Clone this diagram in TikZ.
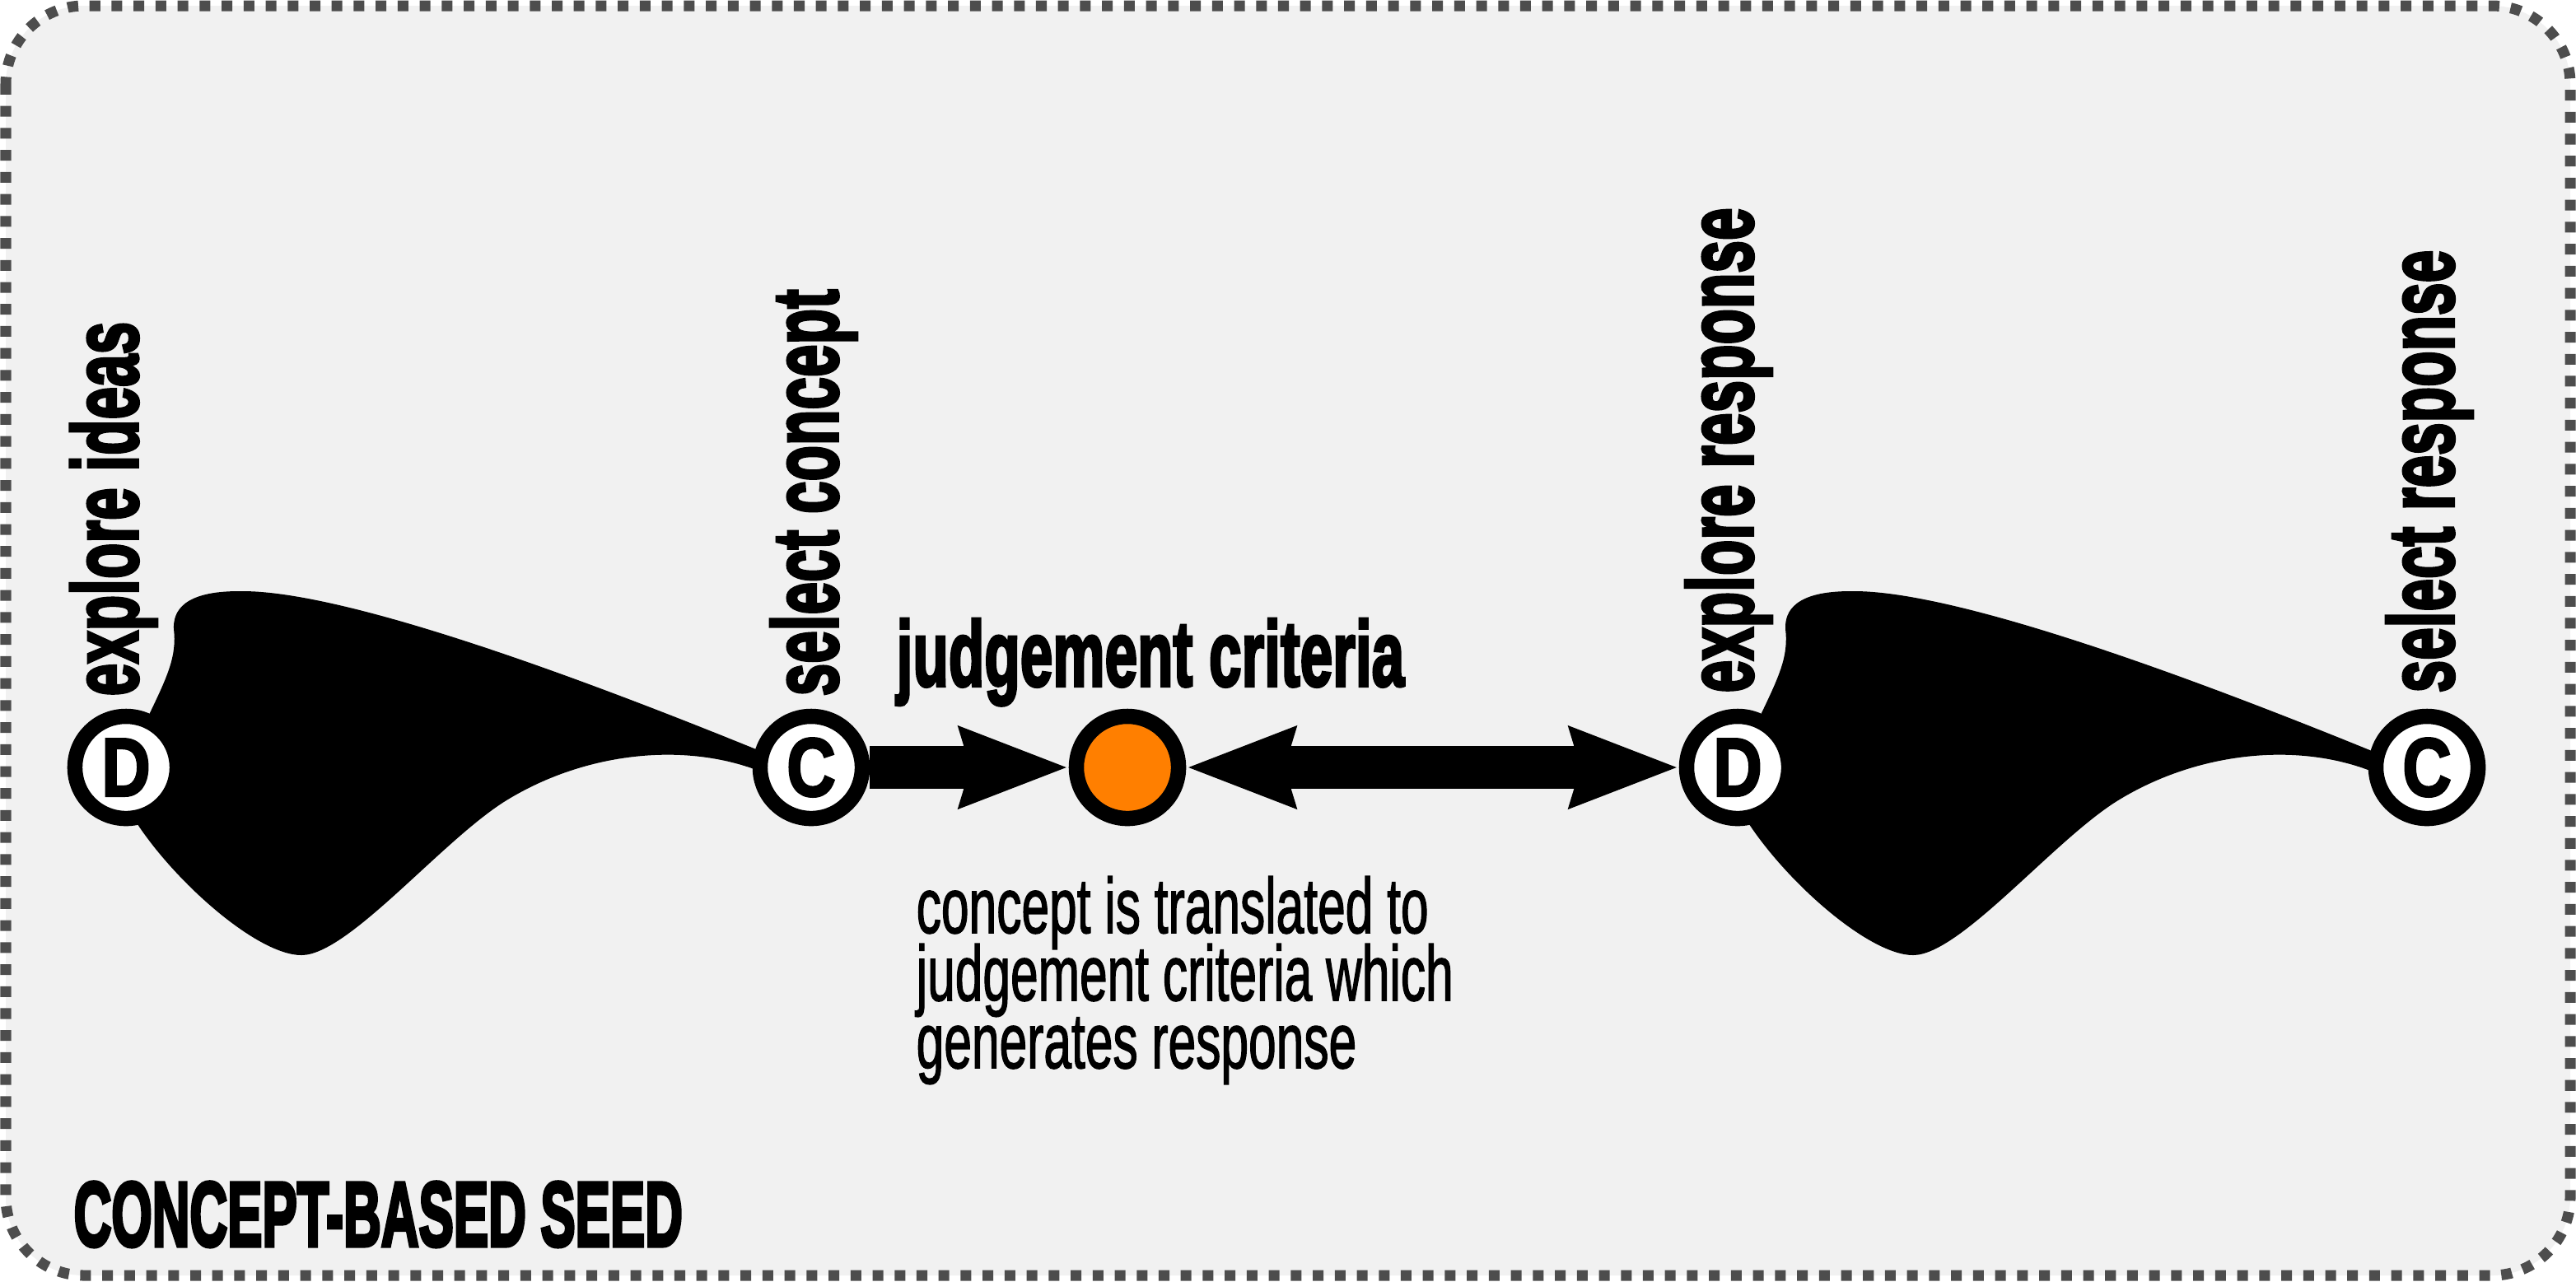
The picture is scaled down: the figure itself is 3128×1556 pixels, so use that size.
\documentclass[tikz,border=0pt]{standalone}
\usepackage{graphicx}
\usepackage{fontspec}
\setmainfont{Liberation Sans}
\newfontfamily\lblfam[FakeBold=3.5]{Liberation Sans}
\newfontfamily\titlefam[FakeBold=4.5]{Liberation Sans}
\newfontfamily\dcfam[FakeBold=3]{Liberation Sans}
\newfontfamily\descfam[FakeBold=1.8]{Liberation Sans}
\usetikzlibrary{arrows.meta}
\def\px{0.28453pt}
\definecolor{bgc}{RGB}{241,241,241}
\definecolor{borderc}{RGB}{77,77,77}
\definecolor{orangec}{RGB}{255,127,0}
\pgfdeclarelayer{blobs}
\pgfsetlayers{blobs,main}
\newcommand\lblfont{\lblfam\bfseries\fontsize{32pt}{36pt}\selectfont}
\newcommand\lbl[1]{\scalebox{0.632}[1]{\lblfont #1}}
\newcommand\dcfont{\dcfam\bfseries\fontsize{28.5pt}{30pt}\selectfont}
\newcommand\dclabel[1]{\scalebox{0.82}[1]{\dcfont #1}}
\newcommand\descfont{\descfam\fontsize{27pt}{23.33pt}\selectfont}
\newcommand\titlefont{\titlefam\bfseries\fontsize{31.5pt}{36pt}\selectfont}
\begin{document}
\begin{tikzpicture}[x=0.01cm,y=-0.01cm,
  ring/.style={circle, draw=black, fill=white, line width=18.5*\px, minimum size=124*\px, inner sep=0pt},
  vlabel/.style={rotate=90, anchor=base west, inner sep=0pt},
  txt/.style={anchor=base west, inner sep=0pt},
  bigline/.style={line width=52*\px},
  tip/.tip={Stealth[length=37pt,width=26.5pt,inset=3.1pt]},
  blobfill/.style={fill=black}]
\useasboundingbox (0,0) rectangle (3128,1556);
\coordinate (d1c) at (153,932);
\coordinate (c1c) at (985,932);
\coordinate (jcc) at (1369,932);
\coordinate (d2c) at (2110,932);
\coordinate (c2c) at (2947,932);
\begin{pgfonlayer}{blobs}
\fill[white] (0,0) rectangle (3128,1556);
\draw[borderc, fill=bgc, line width=3.7pt, dash pattern=on 3.7pt off 3.9pt, rounded corners=27pt] (7,7) rectangle (3121,1549);
\begin{scope}[shift={(d1c)}]
\path[blobfill] (0,0) -- (28,-64) .. controls (50,-110) and (62,-135) .. (58,-168) .. controls (57,-190) and (70,-214) .. (137,-214) .. controls (250,-216) and (500,-130) .. (770,-20) -- (c1c) -- (768,4) .. controls (680,-30) and (560,-20) .. (462,40) .. controls (384,88) and (270,228) .. (213,228) .. controls (160,228) and (60,140) .. (12,66) -- cycle;
\end{scope}
\begin{scope}[shift={(d2c)}]
\path[blobfill] (0,0) -- (28,-64) .. controls (50,-110) and (62,-135) .. (58,-168) .. controls (57,-190) and (70,-214) .. (137,-214) .. controls (250,-216) and (500,-130) .. (770,-20) -- (c2c) -- (768,4) .. controls (680,-30) and (560,-20) .. (462,40) .. controls (384,88) and (270,228) .. (213,228) .. controls (160,228) and (60,140) .. (12,66) -- cycle;
\end{scope}
\end{pgfonlayer}
\node[ring] (d1) at (d1c) {\dclabel{D}};
\node[ring] (c1) at (c1c) {\dclabel{C}};
\node[ring, fill=orangec] (jc) at (jcc) {};
\node[ring] (d2) at (d2c) {\dclabel{D}};
\node[ring] (c2) at (c2c) {\dclabel{C}};
\draw[bigline, -tip] (c1) -- (jc);
\draw[bigline, tip-tip] (jc) -- (d2);
\node[vlabel] (l1) at (167,846) {\lbl{explore ideas}};
\node[vlabel] (l2) at (1017,846) {\lbl{select concept}};
\node[vlabel] (l3) at (2128,842) {\lbl{explore response}};
\node[vlabel] (l4) at (2979,842) {\lbl{select response}};
\node[txt] (jcl) at (1088,833) {\lbl{judgement criteria}};
\node[txt] (desc) at (1112,1133) {\scalebox{0.637}[1]{\descfont\vtop{\baselineskip=23.33pt\lineskiplimit=-100pt\hbox{concept is translated to}\hbox{judgement criteria which}\hbox{generates response}}}};
\node[txt] (title) at (89,1513) {\scalebox{0.572}[1]{\titlefont CONCEPT-BASED SEED}};
\end{tikzpicture}
\end{document}
